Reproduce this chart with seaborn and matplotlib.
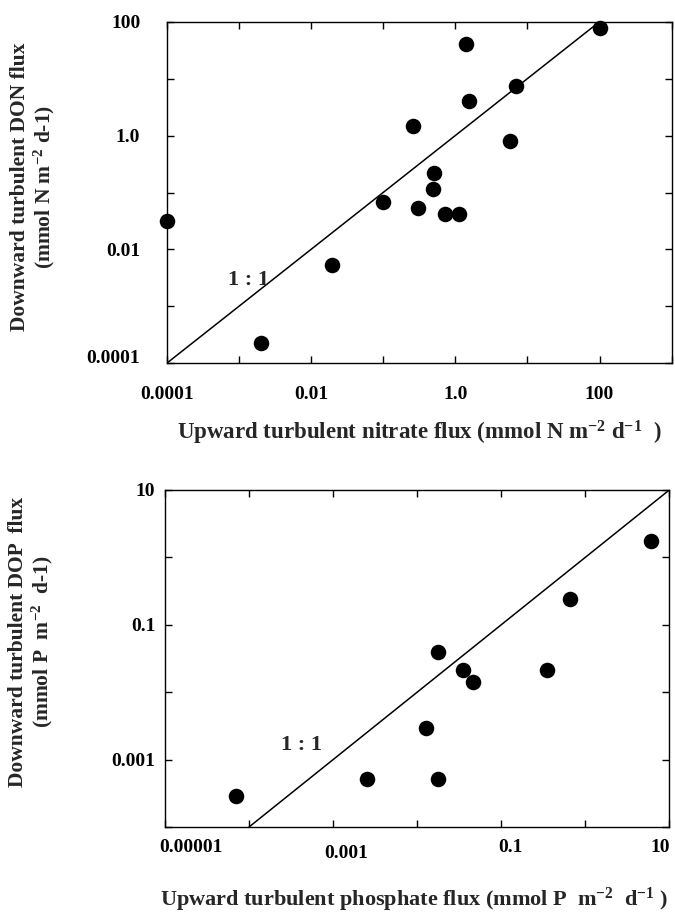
import matplotlib
matplotlib.use("Agg")
import matplotlib.pyplot as plt
import matplotlib.transforms as mtransforms
import seaborn as sns
import pandas as pd
import numpy as np

# ---------------- data ----------------
# Top panel: nitrate (x) vs DON (y), mmol N m-2 d-1
nitrate_flux = [1.0e-4, 2.0e-3, 0.0195, 0.10, 0.30, 0.49, 0.51, 0.72, 1.12,
                0.26, 1.42, 1.56, 6.9, 5.7, 100.0]
don_flux = [0.031, 2.3e-4, 0.0053, 0.069, 0.053, 0.115, 0.22, 0.042, 0.042,
            1.47, 40.0, 4.0, 7.3, 0.80, 78.0]

# Bottom panel: phosphate (x) vs DOP (y), mmol P m-2 d-1
phosphate_flux = [6.9e-5, 0.0025, 0.0177, 0.0129, 0.0177, 0.035, 0.046,
                  0.35, 0.65, 6.0]
dop_flux = [2.9e-4, 5.1e-4, 5.1e-4, 0.0029, 0.039, 0.021, 0.014,
            0.021, 0.245, 1.74]

# 1:1 reference line extents
one_to_one_top = [1e-4, 100.0]
one_to_one_bottom = [1e-4, 10.0]

# ticks and tick labels
top_xticks = [1e-4, 1e-3, 1e-2, 1e-1, 1e0, 1e1, 1e2, 1e3]
top_xticklabels = ["0.0001", "", "0.01", "", "1.0", "", "100", ""]
top_yticks = [1e-4, 1e-3, 1e-2, 1e-1, 1e0, 1e1, 1e2]
top_yticklabels = ["0.0001", "", "0.01", "", "1.0", "", "100"]

bot_xticks = [1e-5, 1e-4, 1e-3, 1e-2, 1e-1, 1e0, 1e1]
bot_xticklabels = ["0.00001", "", "0.001", "", "0.1", "", "10"]
bot_yticks = [1e-4, 1e-3, 1e-2, 1e-1, 1e0, 1e1]
bot_yticklabels = ["", "0.001", "", "0.1", "", "10"]

top_xlabel = "Upward turbulent nitrate flux (mmol N m$^{-2}$ d$^{-1}$  )"
top_ylabel = "Downward turbulent DON flux\n(mmol N m$^{-2}$ d-1)"
bot_xlabel = "Upward turbulent phosphate flux (mmol P  m$^{-2}$  d$^{-1}$ )"
bot_ylabel = "Downward turbulent DOP  flux\n(mmol P  m$^{-2}$  d-1)"

# ---------------- style ----------------
sns.set_style("ticks")
plt.rcParams["font.family"] = ["Liberation Serif", "DejaVu Serif"]
plt.rcParams["font.weight"] = "bold"
plt.rcParams["mathtext.fontset"] = "custom"
plt.rcParams["mathtext.rm"] = "Liberation Serif:bold"
plt.rcParams["mathtext.it"] = "Liberation Serif:bold:italic"
plt.rcParams["mathtext.bf"] = "Liberation Serif:bold"
plt.rcParams["axes.linewidth"] = 1.0

fig = plt.figure(figsize=(6.75, 9.15), dpi=100)
W, H = 675.0, 915.0
ax1 = fig.add_axes([166.7 / W, 1 - 363.3 / H, (671.7 - 166.7) / W, (363.3 - 21.7) / H])
ax2 = fig.add_axes([165.0 / W, 1 - 827.0 / H, (669.3 - 165.0) / W, (827.0 - 490.0) / H])

df_top = pd.DataFrame({"x": nitrate_flux, "y": don_flux})
df_bot = pd.DataFrame({"x": phosphate_flux, "y": dop_flux})
df_l1 = pd.DataFrame({"x": one_to_one_top, "y": one_to_one_top})
df_l2 = pd.DataFrame({"x": one_to_one_bottom, "y": one_to_one_bottom})


def style_axis(ax, xticks, xtl, yticks, ytl, xlim, ylim, xpad, ypad):
    ax.set_xscale("log")
    ax.set_yscale("log")
    ax.set_xlim(*xlim)
    ax.set_ylim(*ylim)
    ax.minorticks_off()
    ax.set_xticks(xticks)
    ax.set_xticklabels(xtl)
    ax.set_yticks(yticks)
    ax.set_yticklabels(ytl)
    ax.minorticks_off()
    ax.tick_params(axis="both", which="major", direction="in", length=5,
                   width=1.0, top=True, right=True, labelsize=14, colors="black")
    ax.tick_params(axis="x", pad=xpad)
    ax.tick_params(axis="y", pad=ypad)
    for lab in ax.get_xticklabels() + ax.get_yticklabels():
        lab.set_fontweight("bold")
    for sp in ax.spines.values():
        sp.set_visible(True)
        sp.set_color("black")
        sp.set_linewidth(1.0)


def shift(lab, dx_px, dy_px):
    lab.set_transform(lab.get_transform() + mtransforms.ScaledTranslation(
        dx_px / 100.0, dy_px / 100.0, fig.dpi_scale_trans))


# top panel
sns.lineplot(data=df_l1, x="x", y="y", ax=ax1, color="black", linewidth=1.1,
             estimator=None, sort=False, legend=False)
sns.scatterplot(data=df_top, x="x", y="y", ax=ax1, color="black", s=125,
                edgecolor="black", linewidth=0, legend=False, zorder=3, clip_on=False)
style_axis(ax1, top_xticks, top_xticklabels, top_yticks, top_yticklabels,
           (1e-4, 1e3), (1e-4, 1e2), 16, 19)
ax1.text(1.35e-3, 2.9e-3, "1 : 1", fontsize=16, fontweight="bold",
         ha="center", va="center")
ax1.set_xlabel(top_xlabel, fontsize=16.5, fontweight="bold")
ax1.xaxis.set_label_coords(0.5, -(433 - 363.3) / 341.6)
ax1.xaxis.label.set_va("center")
ax1.set_ylabel(top_ylabel, fontsize=15.5, fontweight="bold", linespacing=1.05)
ax1.yaxis.set_label_coords(-(166.7 - 33.5) / 505.0, (363.3 - 187) / 341.6)
ax1.yaxis.label.set_va("center")
shift(ax1.get_yticklabels()[0], 0, 7)

# bottom panel
sns.lineplot(data=df_l2, x="x", y="y", ax=ax2, color="black", linewidth=1.1,
             estimator=None, sort=False, legend=False)
sns.scatterplot(data=df_bot, x="x", y="y", ax=ax2, color="black", s=125,
                edgecolor="black", linewidth=0, legend=False, zorder=3, clip_on=False)
style_axis(ax2, bot_xticks, bot_xticklabels, bot_yticks, bot_yticklabels,
           (1e-5, 1e1), (1e-4, 1e1), 9, 7)
ax2.text(4.2e-4, 1.65e-3, "1 : 1", fontsize=16, fontweight="bold",
         ha="center", va="center")
ax2.set_xlabel(bot_xlabel, fontsize=16, fontweight="bold")
ax2.xaxis.set_label_coords((414 - 165) / 504.3, -(900 - 827) / 337.0)
ax2.xaxis.label.set_va("center")
ax2.set_ylabel(bot_ylabel, fontsize=15.5, fontweight="bold", linespacing=1.05)
ax2.yaxis.set_label_coords(-(165 - 31.5) / 504.3, (827 - 642) / 337.0)
ax2.yaxis.label.set_va("center")

# small hand-placement offsets of bottom x tick labels as in the original
offsets_px = {0: 26, 2: 13, 4: 9, 6: -9}
for i, lab in enumerate(ax2.get_xticklabels()):
    if i in offsets_px:
        shift(lab, offsets_px[i], -6 if i == 2 else 0)

fig.savefig("out.png", dpi=100)
